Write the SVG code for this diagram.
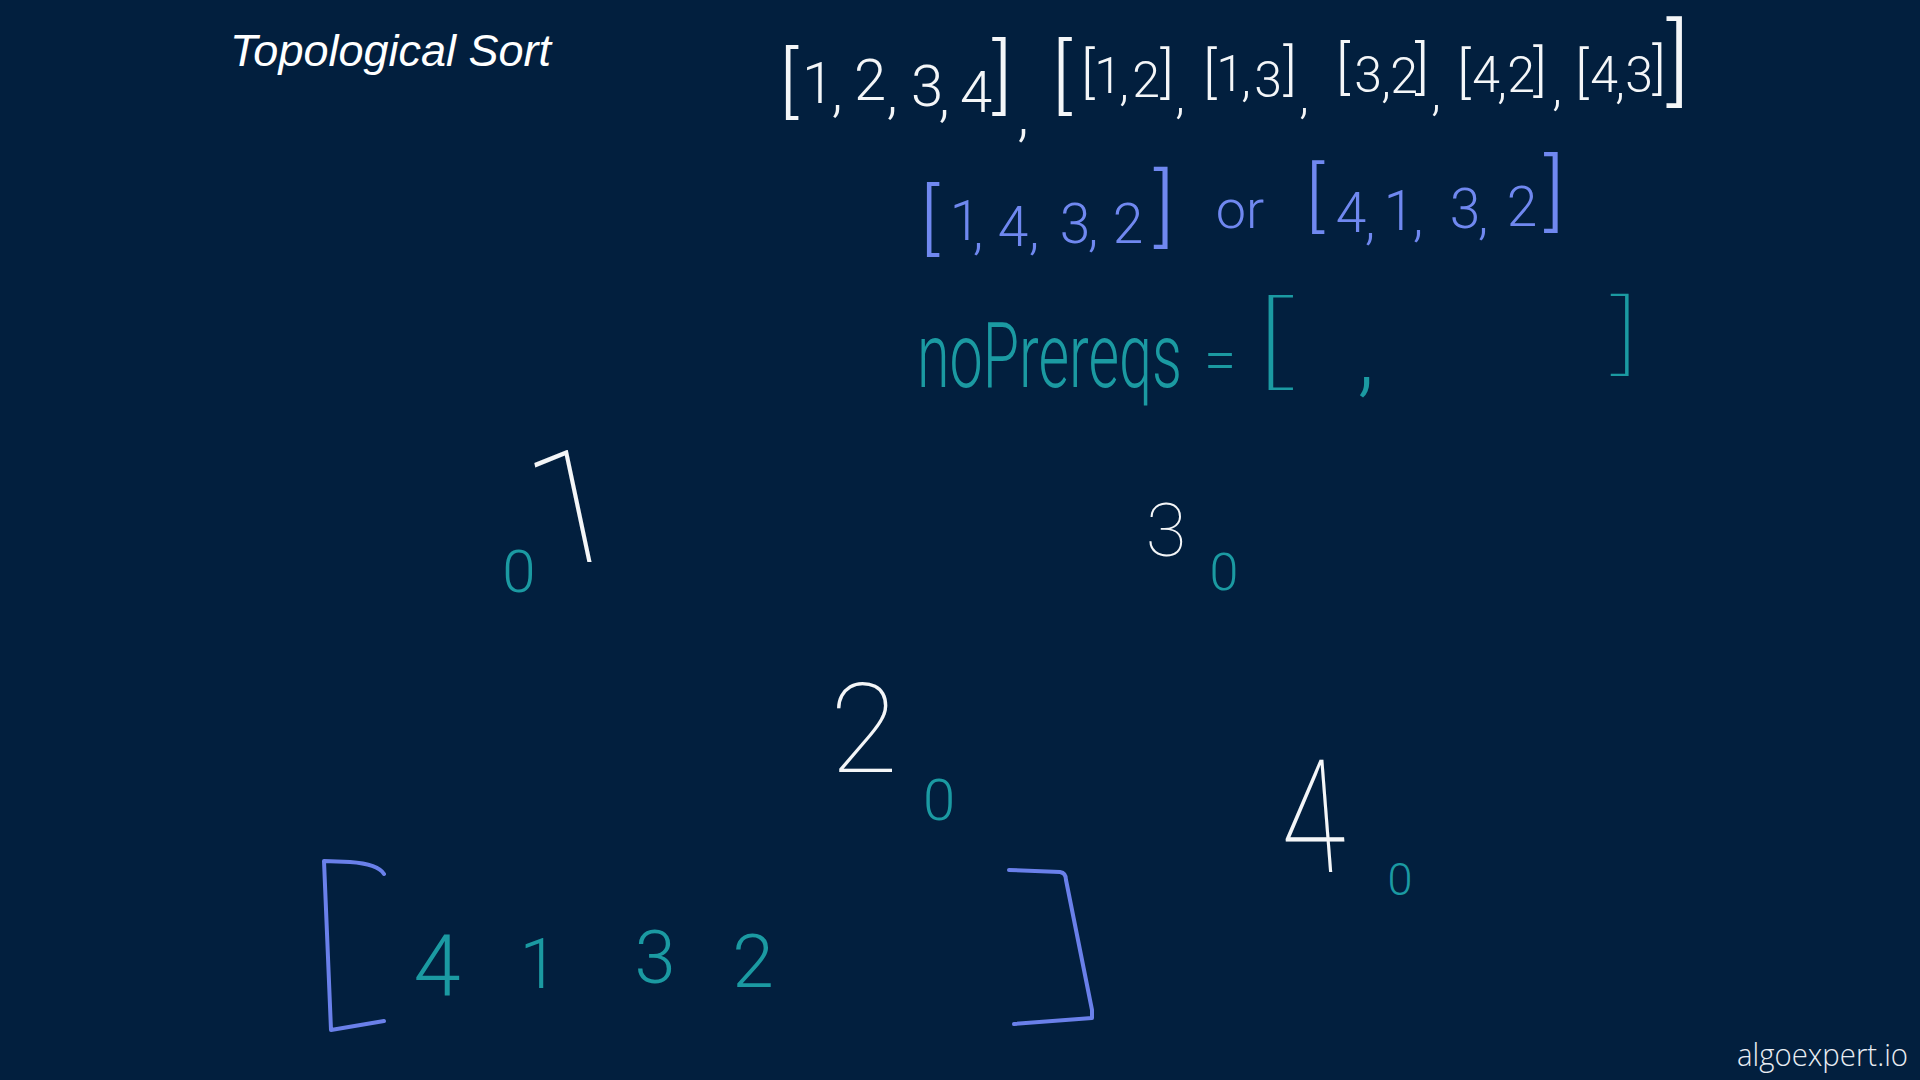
<svg xmlns="http://www.w3.org/2000/svg" width="1920" height="1080" viewBox="0 0 1920 1080">
<style>
.hw{font-family:Roboto,Lato,"Open Sans","DejaVu Sans",sans-serif;font-weight:300;text-anchor:middle}
.big{font-weight:100}
.w{fill:#f4f6f8}
.b{fill:#7088f0}
.t{fill:#1b9aa2}
.br{fill:none;stroke:#6a80ea;stroke-width:4;stroke-linecap:round;stroke-linejoin:round}
</style>
<rect x="0" y="0" width="1920" height="1080" fill="#021f3e"/>
<text x="230" y="66" font-family="'Liberation Sans',Arial,sans-serif" font-style="italic" font-size="45" fill="#ffffff">Topological Sort</text>
<text x="1737" y="1066" font-family="'Open Sans','Liberation Sans',sans-serif" font-weight="300" font-size="32" fill="#e8ecf2" textLength="171" lengthAdjust="spacingAndGlyphs">algoexpert.io</text>

<g id="input" class="hw w">
<text x="789" y="108" font-size="77">[</text>
<text x="818" y="103" font-size="58">1</text>
<text x="837" y="110" font-size="58">,</text>
<text x="870" y="100" font-size="58">2</text>
<text x="892" y="112" font-size="58">,</text>
<text x="927" y="106" font-size="58">3</text>
<text x="944" y="115" font-size="58">,</text>
<text x="976" y="112" font-size="58">4</text>
<text x="1002" y="104" font-size="82">]</text>
<text x="1023" y="135" font-size="60">,</text>
<text x="1062" y="104" font-size="81">[</text>
<text x="1088" y="92" font-size="56">[</text>
<text x="1108" y="93" font-size="50">1</text>
<text x="1124" y="100" font-size="50">,</text>
<text x="1146" y="97" font-size="50">2</text>
<text x="1167" y="92" font-size="56">]</text>
<text x="1180" y="113" font-size="50">,</text>
<text x="1210" y="92" font-size="56">[</text>
<text x="1230" y="91" font-size="50">1</text>
<text x="1246" y="96" font-size="50">,</text>
<text x="1268" y="97" font-size="50">3</text>
<text x="1290" y="89" font-size="56">]</text>
<text x="1304" y="113" font-size="50">,</text>
<text x="1343" y="87" font-size="58">[</text>
<text x="1368" y="92" font-size="50">3</text>
<text x="1386" y="97" font-size="50">,</text>
<text x="1404" y="93" font-size="50">2</text>
<text x="1422" y="87" font-size="58">]</text>
<text x="1436" y="110" font-size="50">,</text>
<text x="1464" y="92" font-size="56">[</text>
<text x="1486" y="92" font-size="50">4</text>
<text x="1502" y="98" font-size="50">,</text>
<text x="1521" y="92" font-size="50">2</text>
<text x="1540" y="90" font-size="56">]</text>
<text x="1557" y="105" font-size="50">,</text>
<text x="1582" y="92" font-size="56">[</text>
<text x="1604" y="92" font-size="50">4</text>
<text x="1620" y="98" font-size="50">,</text>
<text x="1639" y="92" font-size="50">3</text>
<text x="1659" y="88" font-size="56">]</text>
<text x="1678" y="94" font-size="95">]</text>
</g>

<g id="answers" class="hw b">
<text x="930" y="245" font-size="77">[</text>
<text x="965" y="240" font-size="55">1</text>
<text x="978" y="248" font-size="55">,</text>
<text x="1013" y="246" font-size="55">4</text>
<text x="1034" y="248" font-size="55">,</text>
<text x="1075" y="243" font-size="55">3</text>
<text x="1093" y="245" font-size="55">,</text>
<text x="1128" y="243" font-size="55">2</text>
<text x="1164" y="236" font-size="85">]</text>
<text x="1240" y="228" font-size="54">or</text>
<text x="1315" y="222" font-size="76">[</text>
<text x="1351" y="232" font-size="55">4</text>
<text x="1370" y="238" font-size="55">,</text>
<text x="1399" y="230" font-size="55">1</text>
<text x="1418" y="235" font-size="55">,</text>
<text x="1465" y="228" font-size="55">3</text>
<text x="1483" y="233" font-size="55">,</text>
<text x="1522" y="226" font-size="55">2</text>
<text x="1554" y="220" font-size="84">]</text>
</g>

<g id="noPrereqs" class="hw t">
<text x="917" y="387" font-size="90" style="text-anchor:start" textLength="265" lengthAdjust="spacingAndGlyphs">noPrereqs</text>
<text x="1220" y="380" font-size="58">=</text>
<text font-size="98" font-weight="100" transform="translate(1272,375) scale(1.8,1)">[</text>
<text x="1366" y="385" font-size="90">,</text>
<text font-size="86" font-weight="100" transform="translate(1625,363) scale(1.5,1)">]</text>
</g>

<g id="node-1">
<text class="hw big w" font-size="157" transform="translate(584,562) skewX(12)">1</text>
<text class="hw t" x="519" y="592" font-size="60">0</text>
</g>
<g id="node-2">
<text class="hw big w" x="864" y="772" font-size="124">2</text>
<text class="hw t" x="939" y="820" font-size="58">0</text>
</g>
<g id="node-3">
<text class="hw big w" x="1166" y="556" font-size="74">3</text>
<text class="hw t" x="1224" y="590" font-size="52">0</text>
</g>
<g id="node-4">
<text class="hw big w" font-size="158" transform="translate(1316,872) scale(0.75,1) skewX(6)">4</text>
<text class="hw t" x="1400" y="895" font-size="45">0</text>
</g>
<g id="connectors"></g>

<g id="result">
<path class="br" d="M384,874 Q378,864 350,862 L324,861 L331,1030 L384,1021"/>
<path class="br" d="M1009,870 L1060,872 Q1066,873 1066,880 L1092,1010 L1092,1018 L1014,1024"/>
<text class="hw t" x="437" y="995" font-size="85">4</text>
<text class="hw t" x="539" y="988" font-size="70">1</text>
<text class="hw t" x="655" y="983" font-size="74">3</text>
<text class="hw t" x="753" y="987" font-size="75">2</text>
</g>
</svg>
